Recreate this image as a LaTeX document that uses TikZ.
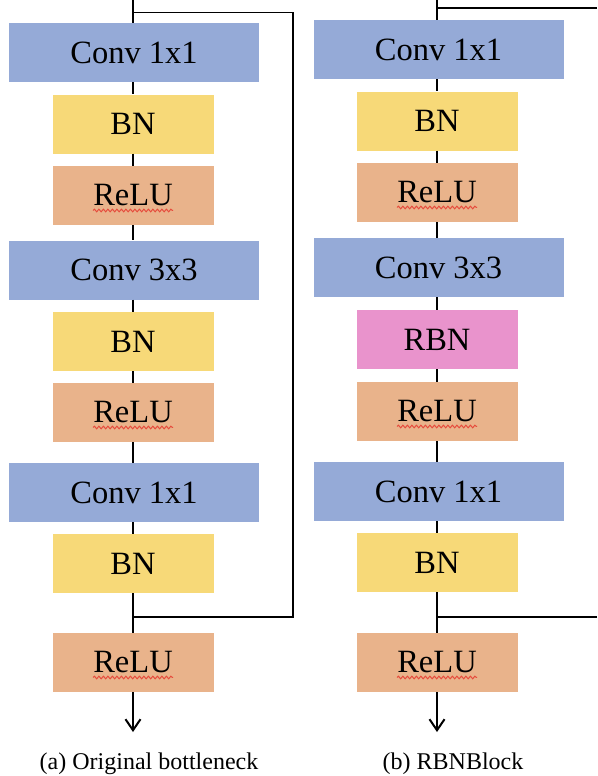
\documentclass[tikz,border=0pt]{standalone}
\usepackage{fontspec}
\setmainfont{Liberation Serif}
\usetikzlibrary{arrows.meta,decorations.pathmorphing}

\definecolor{convblue}{RGB}{149,170,215}
\definecolor{bnyellow}{RGB}{247,217,120}
\definecolor{reluorange}{RGB}{233,179,139}
\definecolor{rbnpink}{RGB}{233,147,204}
\definecolor{spellred}{RGB}{230,75,60}

\tikzset{
  blk/.style={inner sep=0pt, minimum height=59pt, text=black,
              font=\fontsize{32.5}{37}\selectfont},
  convbox/.style={blk, fill=convblue, minimum width=250pt},
  bnbox/.style={blk, fill=bnyellow, minimum width=161pt},
  relubox/.style={blk, fill=reluorange, minimum width=161pt},
  rbnbox/.style={blk, fill=rbnpink, minimum width=161pt},
  flow/.style={line width=2pt, draw=black},
  skipline/.style={line width=1.4pt, draw=black, line join=miter},
  outarrow/.style={flow, -{Straight Barb[length=11pt,width=15pt,line width=2pt]}},
  wavy/.style={draw=spellred, line width=1pt, decorate,
               decoration={snake, segment length=4.5pt, amplitude=1.3pt}},
  captext/.style={anchor=base, font=\fontsize{24}{28}\selectfont}
}

% red wavy underline below a ReLU label
\newcommand{\reluwave}[1]{%
  \draw[wavy] ([xshift=-40pt,yshift=-4.5pt]#1.base) -- ([xshift=40pt,yshift=-4.5pt]#1.base);}

\begin{document}
\begin{tikzpicture}[x=1pt,y=-1pt]
\useasboundingbox (0,0) rectangle (597,776);

% ---------- (a) original bottleneck ----------
\node[convbox] (a1) at (134,52.5) {Conv 1x1};
\node[bnbox]   (a2) at (133,124) {BN};
\node[relubox] (a3) at (133,195.5) {ReLU};
\node[convbox] (a4) at (134,270) {Conv 3x3};
\node[bnbox]   (a5) at (133,341.5) {BN};
\node[relubox] (a6) at (133,412.5) {ReLU};
\node[convbox] (a7) at (134,492.5) {Conv 1x1};
\node[bnbox]   (a8) at (133,563.5) {BN};
\node[relubox] (a9) at (133,662.5) {ReLU};

\coordinate (aIn)    at (133,0);
\coordinate (aSplit) at (133,12.5);
\coordinate (aRight) at (293,12.5);
\coordinate (aMerge) at (133,617);
\coordinate (aOut)   at (133,732);

\draw[flow] (aIn) -- (a1.north -| aIn);
\draw[flow] (a1.south -| aIn) -- (a2.north);
\draw[flow] (a2) -- (a3);
\draw[flow] (a3.south) -- (a4.north -| aIn);
\draw[flow] (a4.south -| aIn) -- (a5.north);
\draw[flow] (a5) -- (a6);
\draw[flow] (a6.south) -- (a7.north -| aIn);
\draw[flow] (a7.south -| aIn) -- (a8.north);
\draw[flow] (a8) -- (a9);
\draw[outarrow] (a9.south) -- (aOut);
\draw[skipline] (aSplit) -- (aRight) |- (aMerge);

\reluwave{a3}
\reluwave{a6}
\reluwave{a9}

\node[captext] (capA) at (149,769) {(a) Original bottleneck};

% ---------- (b) RBNBlock ----------
\node[convbox] (b1) at (438.5,49.5) {Conv 1x1};
\node[bnbox]   (b2) at (437,121) {BN};
\node[relubox] (b3) at (437,192.5) {ReLU};
\node[convbox] (b4) at (438.5,267.5) {Conv 3x3};
\node[rbnbox]  (b5) at (437,339.5) {RBN};
\node[relubox] (b6) at (437,411.5) {ReLU};
\node[convbox] (b7) at (438.5,491.5) {Conv 1x1};
\node[bnbox]   (b8) at (437,562.5) {BN};
\node[relubox] (b9) at (437,662.5) {ReLU};

\coordinate (bIn)    at (437,0);
\coordinate (bSplit) at (437,8);
\coordinate (bRight) at (597,8);
\coordinate (bMerge) at (437,617);
\coordinate (bEdge)  at (597,617);
\coordinate (bOut)   at (437,732);

\draw[flow] (bIn) -- (b1.north -| bIn);
\draw[flow] (b1.south -| bIn) -- (b2.north);
\draw[flow] (b2) -- (b3);
\draw[flow] (b3.south) -- (b4.north -| bIn);
\draw[flow] (b4.south -| bIn) -- (b5.north);
\draw[flow] (b5) -- (b6);
\draw[flow] (b6.south) -- (b7.north -| bIn);
\draw[flow] (b7.south -| bIn) -- (b8.north);
\draw[flow] (b8) -- (b9);
\draw[outarrow] (b9.south) -- (bOut);
\draw[skipline] (bSplit) -- (bRight);
\draw[skipline] (bEdge) -- (bMerge);

\reluwave{b3}
\reluwave{b6}
\reluwave{b9}

\node[captext] (capB) at (453,769) {(b) RBNBlock};
\end{tikzpicture}
\end{document}
